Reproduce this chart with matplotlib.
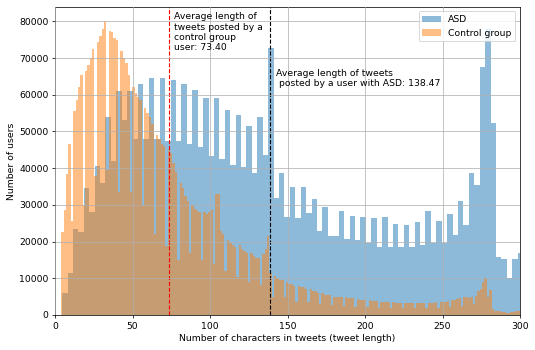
import numpy as np
import matplotlib
matplotlib.use("Agg")
from matplotlib import pyplot as plt

# Histogram counts
# ASD: 3.5-char bins starting at 1
asd_start = 1.0
asd_width = 3.5
asd_counts = [0, 6000, 11500, 23500, 22500, 34500, 28000, 40500, 36000, 54000,
              42000, 61000, 53000, 61000, 48000, 63000, 48000, 64500, 48000, 64500,
              47500, 63900, 47500, 63000, 46500, 61300, 45900, 59100, 43200, 59100,
              42500, 55900, 40900, 54500, 40400, 51500, 38800, 53900, 43600, 72700,
              31800, 38600, 26800, 35000, 26400, 35000, 27900, 31600, 23000, 29400,
              21600, 21500, 28400, 20700, 27000, 20300, 26800, 19700, 26300, 18600,
              26600, 18600, 24800, 18600, 24400, 18600, 25400, 19000, 28200, 19600,
              25500, 19700, 27500, 21800, 31000, 24500, 38700, 35500, 67500, 78000,
              52300, 15700, 15300, 10000, 15300, 16800]

# Control group: narrower bins (~1.525 chars) starting at 1
ctrl_start = 1.0
ctrl_width = 1.525
ctrl_counts = [0, 0, 22500, 28500, 38500, 46500, 25500, 55500, 58500, 62000,
               65500, 30000, 66500, 68000, 70000, 72500, 38000, 74500, 76000, 78000,
               80000, 39500, 77500, 77000, 75500, 75000, 33500, 72000, 70000, 68700,
               65500, 33500, 62000, 60500, 59500, 58500, 30000, 56500, 55000, 54000,
               52000, 22000, 49000, 48000, 46500, 46000, 18700, 45000, 44000, 41500,
               39000, 15000, 36000, 34500, 32500, 31000, 16800, 30000, 29000, 28500,
               28000, 14900, 28000, 27500, 28000, 28500, 14000, 33000, 33000, 23000,
               22000, 12000, 20500, 19500, 19000, 18500, 10400, 19000, 18000, 17500,
               17000, 9100, 16800, 16000, 15500, 15500, 8200, 16500, 18000, 21500,
               11500, 5000, 10500, 10000, 9500, 9500, 5000, 9000, 8500, 8500,
               8000, 3500, 8000, 7500, 7500, 7000, 3500, 7000, 6500, 6500,
               6000, 3000, 6000, 5500, 5500, 5500, 2800, 5000, 5000, 5000,
               4800, 2500, 4800, 4500, 4500, 4500, 2300, 4300, 4200, 4000,
               4000, 2200, 4000, 3800, 3800, 3700, 2000, 3600, 3600, 3500,
               3500, 2000, 3500, 3400, 3400, 3300, 2000, 3300, 3200, 3300,
               3200, 1900, 3300, 3200, 3300, 3300, 1900, 3300, 3400, 3300,
               3500, 2000, 3500, 3600, 3500, 3800, 2200, 4000, 4200, 4300,
               4500, 2500, 4800, 5000, 4500, 5000, 3000, 5200, 6500, 7000,
               9000, 10000, 5000, 6800, 1500, 1200, 1000, 1000, 800, 800,
               600, 500, 800, 800, 1000, 1200, 1000]

mean_ctrl = 73.40
mean_asd = 138.47

asd_edges = asd_start + asd_width * np.arange(len(asd_counts) + 1)
ctrl_edges = ctrl_start + ctrl_width * np.arange(len(ctrl_counts) + 1)

# drawn at 8in wide with default sizes, saved small (535 px wide)
fig = plt.figure(figsize=(8, 8 * 350 / 535))
ax = fig.add_axes([0.103, 0.1, 0.869, 0.881])

ax.hist(asd_edges[:-1], bins=asd_edges, weights=asd_counts, alpha=0.5, label='ASD')
ax.hist(ctrl_edges[:-1], bins=ctrl_edges, weights=ctrl_counts, alpha=0.5, label='Control group')

ax.axvline(mean_ctrl, color='r', linestyle='--', linewidth=1.2)
ax.axvline(mean_asd, color='k', linestyle='--', linewidth=1.2)

ax.text(mean_ctrl + 3.5, 82500, 'Average length of\ntweets posted by a\ncontrol group\nuser: %.2f' % mean_ctrl,
        va='top', ha='left')
ax.text(mean_asd + 4, 67000, 'Average length of tweets\n posted by a user with ASD: %.2f' % mean_asd,
        va='top', ha='left')

ax.set_xlim(0, 300)
ax.set_ylim(0, 84000)
ax.grid(True)
ax.set_axisbelow(False)
ax.set_xlabel('Number of characters in tweets (tweet length)')
ax.set_ylabel('Number of users')
ax.legend(loc='upper right')

fig.savefig('out.png', dpi=535 / 8)
